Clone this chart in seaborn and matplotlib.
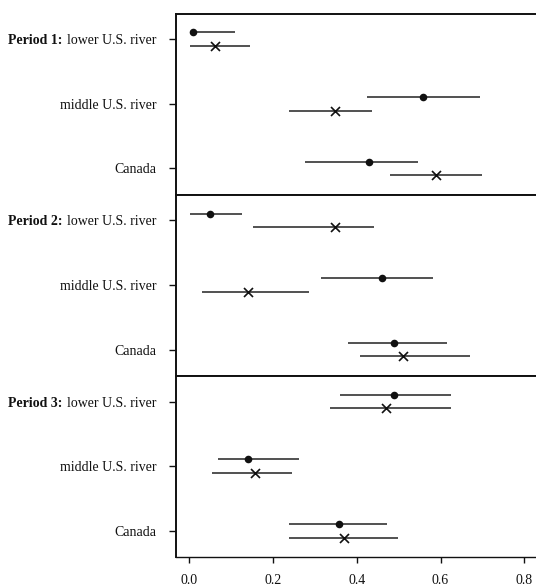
import numpy as np
import pandas as pd
import matplotlib
matplotlib.use("Agg")
import matplotlib.pyplot as plt
import matplotlib.transforms as mtransforms
import seaborn as sns

# ---------------- data ----------------
periods = ["Period 1:", "Period 2:", "Period 3:"]
sites = ["lower U.S. river", "middle U.S. river", "Canada"]

# filled-circle series (per period: lower, middle, Canada)
dot_est = [[0.009, 0.559, 0.429], [0.050, 0.460, 0.489], [0.489, 0.140, 0.358]]
dot_lo = [[0.003, 0.424, 0.276], [0.002, 0.314, 0.379], [0.360, 0.069, 0.237]]
dot_hi = [[0.109, 0.695, 0.545], [0.126, 0.583, 0.615], [0.625, 0.262, 0.472]]

# cross series
x_est = [[0.060, 0.349, 0.589], [0.349, 0.140, 0.510], [0.470, 0.157, 0.370]]
x_lo = [[0.002, 0.237, 0.479], [0.151, 0.030, 0.407], [0.337, 0.053, 0.238]]
x_hi = [[0.145, 0.436, 0.699], [0.440, 0.285, 0.671], [0.625, 0.244, 0.498]]

xtick_values = [0.0, 0.2, 0.4, 0.6, 0.8]
xtick_labels = ["0.0", "0.2", "0.4", "0.6", "0.8"]

# ---------------- table ----------------
rows = []
for pi, p in enumerate(periods):
    for si, s in enumerate(sites):
        rows.append(dict(period=p, site=s, site_idx=si, series="dot",
                         est=dot_est[pi][si], lo=dot_lo[pi][si], hi=dot_hi[pi][si]))
        rows.append(dict(period=p, site=s, site_idx=si, series="cross",
                         est=x_est[pi][si], lo=x_lo[pi][si], hi=x_hi[pi][si]))
df = pd.DataFrame(rows)
offset = {"dot": -0.106, "cross": 0.106}
df["ypos"] = df["site_idx"] + df["series"].map(offset)

# ---------------- style ----------------
sns.set_theme(style="ticks")
plt.rcParams["font.family"] = ["Liberation Serif", "DejaVu Serif"]
plt.rcParams["axes.linewidth"] = 1.4

fig = plt.figure(figsize=(5.36, 5.86), dpi=100)
left, right = 176 / 536, 1.0
bottom, top = 1 - 557 / 586, 1 - 13.5 / 586
h = (top - bottom) / 3

ink = "#111111"
for pi, p in enumerate(periods):
    ax = fig.add_axes([left, top - (pi + 1) * h, right - left, h])
    sub = df[df["period"] == p]
    ax.hlines(sub["ypos"], sub["lo"], sub["hi"], color="#222222", lw=1.1, zorder=2)
    sns.scatterplot(data=sub[sub["series"] == "dot"], x="est", y="ypos", marker="o",
                    color=ink, s=30, edgecolor=ink, linewidth=0, ax=ax, zorder=3,
                    legend=False)
    sns.scatterplot(data=sub[sub["series"] == "cross"], x="est", y="ypos", marker="x",
                    color=ink, s=42, linewidth=1.2, ax=ax, zorder=3, legend=False)
    ax.set_xlim(-0.032, 0.828)
    ax.set_ylim(2.406, -0.398)
    ax.set_yticks(range(len(sites)))
    ax.set_yticklabels(sites, fontsize=10)
    ax.tick_params(axis="y", direction="out", length=4.8, width=1.0, pad=9,
                   colors=ink)
    ax.set_xlabel("")
    ax.set_ylabel("")
    ax.spines["right"].set_visible(False)
    for sp in ("left", "top", "bottom"):
        ax.spines[sp].set_color(ink)
    if pi < 2:
        ax.set_xticks([])
    else:
        ax.set_xticks(xtick_values)
        ax.set_xticklabels(xtick_labels, fontsize=10)
        ax.tick_params(axis="x", direction="out", length=4.5, width=1.0, pad=8,
                       colors=ink)
        ax.spines["bottom"].set_linewidth(1.0)
    trans = mtransforms.blended_transform_factory(fig.transFigure, ax.transData)
    ax.text(8.3 / 536, 0, p, transform=trans, ha="left", va="center_baseline",
            fontsize=10, fontweight="bold", color=ink)

fig.savefig("out.png", dpi=100)
